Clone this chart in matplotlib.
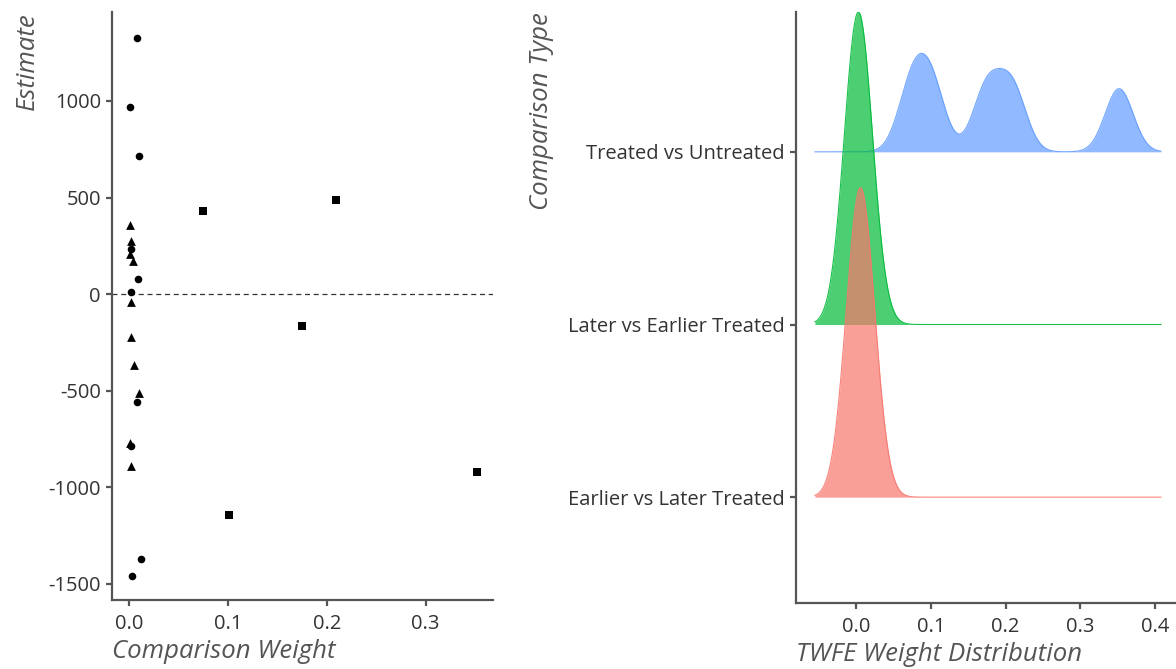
import numpy as np
import matplotlib
matplotlib.use("Agg")
from matplotlib import pyplot as plt

plt.rcParams['font.family'] = ['Open Sans', 'DejaVu Sans']

# comparison weights and estimates
# circles: Earlier vs Later Treated
elt_weight = [0.0084, 0.0010, 0.0104, 0.0020, 0.0088, 0.0027, 0.0078, 0.0027, 0.0118, 0.0037]
elt_est = [1324, 967, 715, 231, 76, 12, -558, -787, -1374, -1459]
# triangles: Later vs Earlier Treated
let_weight = [0.0010, 0.0027, 0.0010, 0.0043, 0.0027, 0.0017, 0.0050, 0.0104, 0.0010, 0.0027]
let_est = [357, 276, 205, 172, -40, -221, -368, -511, -773, -891]
# squares: Treated vs Untreated
tvu_weight = [0.0747, 0.1010, 0.1750, 0.2090, 0.3520]
tvu_est = [430, -1145, -166, 487, -922]

groups = ["Earlier vs Later Treated", "Later vs Earlier Treated", "Treated vs Untreated"]
group_weights = [elt_weight, let_weight, tvu_weight]
group_colors = ["#F8766D", "#00BA38", "#619CFF"]

x_ticks_left = [0.0, 0.1, 0.2, 0.3]
y_ticks_left = [-1500, -1000, -500, 0, 500, 1000]
x_ticks_right = [0.0, 0.1, 0.2, 0.3, 0.4]

spine_col = "#555555"
tick_col = "#333333"
title_col = "#555555"


def bw_nrd0(v):
    v = np.asarray(v)
    q75, q25 = np.percentile(v, [75, 25])
    lo = min(np.std(v, ddof=1), (q75 - q25) / 1.34)
    return 0.9 * lo * len(v) ** -0.2


def style(ax):
    for s in ["top", "right"]:
        ax.spines[s].set_visible(False)
    for s in ["left", "bottom"]:
        ax.spines[s].set_color(spine_col)
        ax.spines[s].set_linewidth(1.6)
    ax.tick_params(length=4, width=1.6, color=spine_col, labelcolor=tick_col,
                   labelsize=14.5, pad=4)
    ax.tick_params(axis="x", pad=6)


fig = plt.figure(figsize=(11.76, 6.69), dpi=100)

# left panel: scatter
ax1 = fig.add_axes([112 / 1176, 69 / 669, 381 / 1176, 588 / 669])
ax1.axhline(0, color="#333333", lw=0.9, ls=(0, (4, 3)), zorder=1)
ax1.scatter(elt_weight, elt_est, marker="o", s=30, color="black", lw=0, zorder=3)
ax1.scatter(let_weight, let_est, marker="^", s=40, color="black", lw=0, zorder=3)
ax1.scatter(tvu_weight, tvu_est, marker="s", s=30, color="black", lw=0, zorder=3)
ax1.set_xlim(-0.017, 0.368)
ax1.set_ylim(-1585, 1461)
ax1.set_xticks(x_ticks_left)
ax1.set_xticklabels([f"{t:.1f}" for t in x_ticks_left])
ax1.set_yticks(y_ticks_left)
ax1.set_yticklabels([str(t) for t in y_ticks_left])
style(ax1)
ax1.set_xlabel("Comparison Weight", fontsize=18.5, style="italic", color=title_col,
               loc="left", labelpad=4)
ax1.set_ylabel("Estimate", fontsize=18.5, style="italic", color=title_col,
               loc="top", labelpad=6)

# right panel: ridgelines with a joint bandwidth
bw = np.mean([bw_nrd0(w) for w in group_weights])
all_w = np.concatenate(group_weights)
xs = np.linspace(all_w.min() - 3 * bw, all_w.max() + 3 * bw, 512)
dens = []
for w in group_weights:
    w = np.asarray(w)
    d = np.exp(-0.5 * ((xs[:, None] - w[None, :]) / bw) ** 2).sum(axis=1)
    d = d / (len(w) * bw * np.sqrt(2 * np.pi))
    dens.append(d)
dmax = max(d.max() for d in dens)
scale = 1.81

ax2 = fig.add_axes([796 / 1176, 66 / 669, 380 / 1176, 591 / 669])
for i in [2, 1, 0]:
    base = i + 1
    h = dens[i] / dmax * scale
    z = 3 - i
    ax2.fill_between(xs, base, base + h, color=group_colors[i], alpha=0.7, lw=0, zorder=z)
    ax2.plot(xs, base + h, color=group_colors[i], lw=0.8, alpha=0.9, zorder=z)
ax2.set_xlim(-0.0803, 0.4281)
ax2.set_ylim(0.387, 3.81)
ax2.set_xticks(x_ticks_right)
ax2.set_xticklabels([f"{t:.1f}" for t in x_ticks_right])
ax2.set_yticks([1, 2, 3])
ax2.set_yticklabels(groups)
style(ax2)
ax2.set_xlabel("TWFE Weight Distribution", fontsize=18.5, style="italic", color=title_col,
               loc="left", labelpad=4)
ax2.set_ylabel("Comparison Type", fontsize=18.5, style="italic", color=title_col,
               loc="top", labelpad=10)

fig.savefig("out.png", dpi=100)
